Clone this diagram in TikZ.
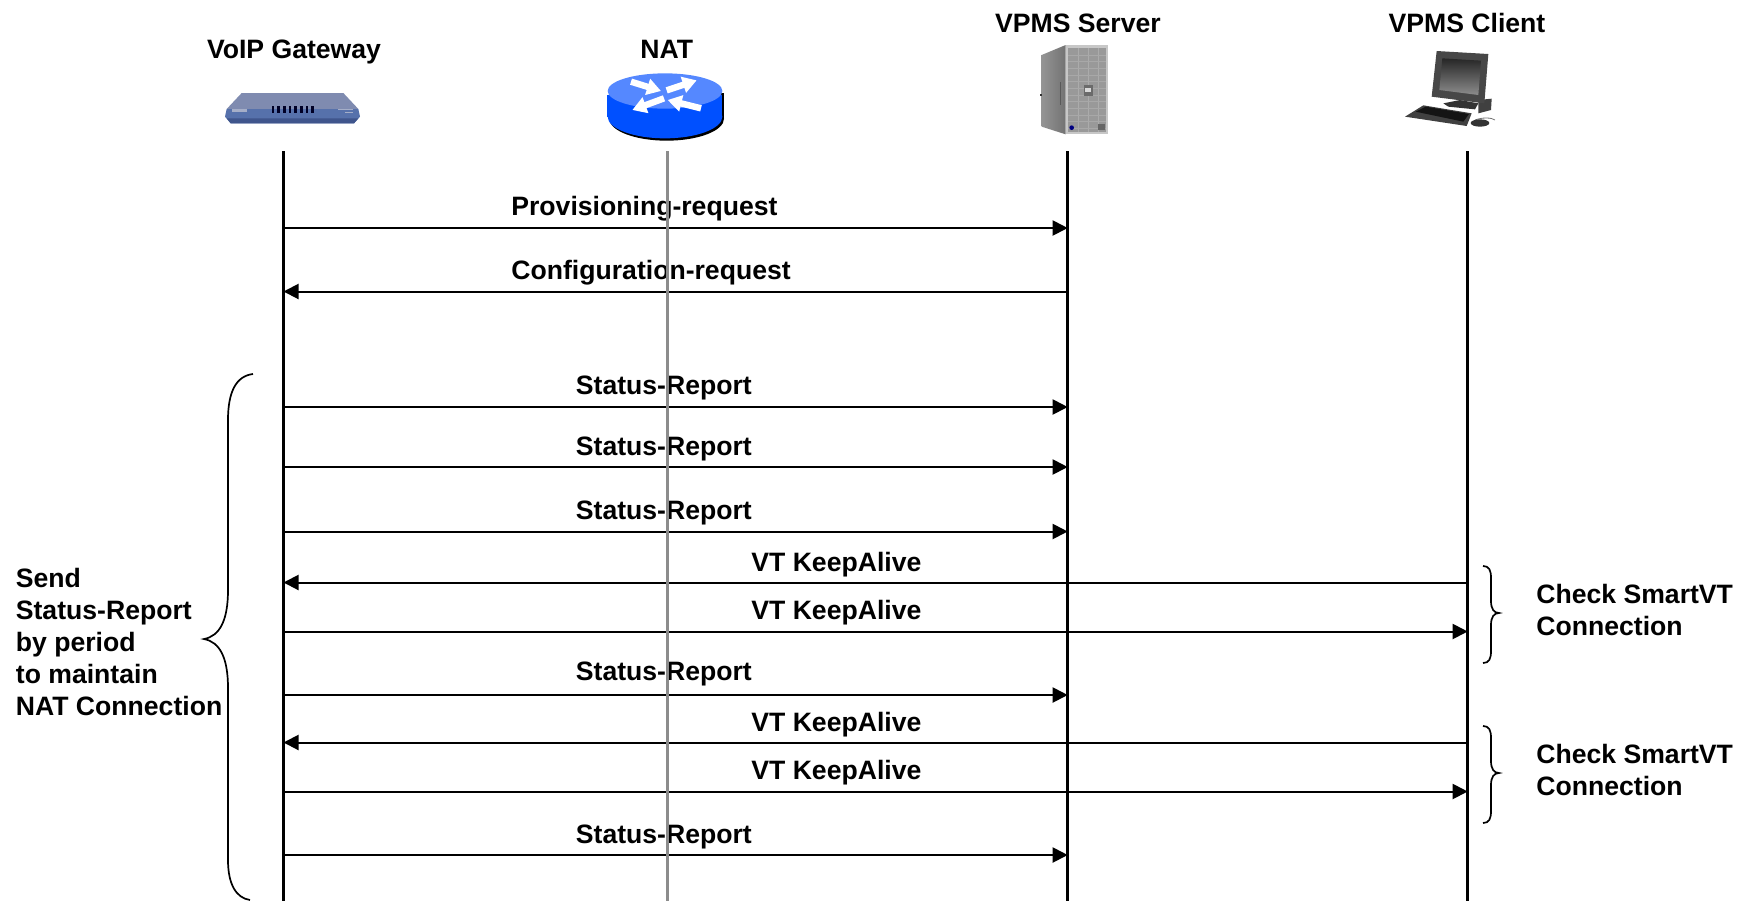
\documentclass[tikz,border=0pt]{standalone}
\usepackage{fontspec}
\setmainfont{Liberation Sans}
\usetikzlibrary{arrows.meta,positioning}
\definecolor{natgray}{HTML}{8C8C8C}
\definecolor{rtrtop}{HTML}{5588FF}
\definecolor{rtrbody}{HTML}{0050FF}
\definecolor{gwtop}{HTML}{7F8BB0}
\definecolor{gwfront}{HTML}{5671AB}
\definecolor{gwedge}{HTML}{3F558C}
\tikzset{
    hdr/.style={ % lifeline titles, placed by baseline
        inner sep=0pt,
        anchor=base,
        font=\fontsize{13.3pt}{16pt}\selectfont\bfseries
        },
    msg/.style={ % message labels, placed by baseline
        hdr,
        anchor=base west
        },
    note/.style={ % side texts
        hdr,
        anchor=west,
        align=left
        },
    life/.style={
        line width=1.5pt
        },
    lifenat/.style={
        line width=1.7pt,
        draw=natgray
        },
    arrout/.style={
        line width=1pt,
        -{Triangle[length=7.5pt,width=7.5pt]}
        },
    brc/.style={
        line width=0.85pt
        },
    rtrarr/.style={
        draw=white,
        line width=3.2pt,
        -{Triangle[length=7pt,width=8pt]}
        },
    zoomed/.style={ % icons are written in units of 1/3 px
        x=0.16667pt,
        y=-0.16667pt
        }
}
\begin{document}
\begin{tikzpicture}[x=0.5pt,y=-0.5pt]
		\useasboundingbox (0,0) rectangle (1742,901);
		
		%%%%% lifeline ends
		\coordinate (gw) at (283.5,151);
		\coordinate (nat) at (667.5,151);
		\coordinate (srv) at (1067.7,151);
		\coordinate (cli) at (1467.7,151);
		\coordinate (gwend) at (gw |- 0,901);
		\coordinate (natend) at (nat |- 0,901);
		\coordinate (srvend) at (srv |- 0,901);
		\coordinate (cliend) at (cli |- 0,901);
		
		%%%%% one row of coordinates per message
		\foreach \n/\ya in {1/228,2/291.5,3/407,4/467,5/531.5,6/582.5,7/631.5,8/695,9/742.5,10/791.5,11/855}{
			\coordinate (gw\n) at (gw |- 0,\ya);
			\coordinate (srv\n) at (srv |- 0,\ya);
			\coordinate (cli\n) at (cli |- 0,\ya);
		}
		
		%%%%% titles
		\node[hdr] (tgw) at (294,58) {VoIP Gateway};
		\node[hdr] (tnat) at (666.7,58) {NAT};
		\node[hdr] (tsrv) at (1078,32.5) {VPMS Server};
		\node[hdr] (tcli) at (1467,32.5) {VPMS Client};
		
		%%%%% gateway icon
		\begin{scope}[shift={(210,85)},zoomed]
			\fill[gwtop] (95,24) -- (400,24) -- (445,72) -- (50,72) -- cycle;
			\fill[gwfront] (50,72) -- (445,72) -- (450,95) -- (432,115) -- (62,115) -- (45,95) -- cycle;
			\fill[gwedge] (50,100) -- (445,100) -- (432,115) -- (62,115) -- cycle;
			\foreach \x in {185,202,...,305}{
				\fill[black!85!blue] (\x,63) rectangle ++(8,22);
			}
			\fill[gwtop!70!white] (65,72) rectangle (112,82);
			\fill[gwtop!70!white] (385,72) rectangle (428,76);
			\fill[gwtop!70!white] (405,80) rectangle (428,84);
		\end{scope}
		
		%%%%% router icon
		\begin{scope}[shift={(595,65)},zoomed]
			\fill[black] (43,84) rectangle (388,161);
			\fill[black] (215,161) ellipse [x radius=172, y radius=66];
			\fill[rtrbody] (37,90) rectangle (382,155);
			\fill[rtrbody] (210,155) ellipse [x radius=172, y radius=65];
			\fill[rtrtop] (210,78) ellipse [x radius=172, y radius=53];
			\draw[rtrarr] (108,50) -- (198,78);
			\draw[rtrarr] (215,76) -- (305,46);
			\draw[rtrarr] (207,100) -- (112,135);
			\draw[rtrarr] (318,130) -- (218,105);
		\end{scope}
		
		%%%%% server icon
		\begin{scope}[shift={(1025,35)},zoomed]
			\shade[left color=black!42,right color=black!55] (50,60) -- (122,30) -- (122,298) -- (50,275) -- cycle;
			\fill[black!65] (105,140) rectangle (109,210);
			\fill[black!80] (45,177) rectangle (52,184);
			\fill[black!22] (122,30) rectangle (250,298);
			\fill[black!40] (130,40) rectangle (242,120);
			\fill[black!40] (130,124) rectangle (242,290);
			\foreach \x in {160,190,220}{
				\draw[black!33,line width=0.4pt] (\x,40) -- (\x,290);
			}
			\foreach \y in {60,80,...,280}{
				\draw[black!34,line width=0.4pt] (130,\y) -- (242,\y);
			}
			\fill[black!58] (177,150) rectangle (203,182);
			\fill[black!15] (181,160) rectangle (199,172);
			\fill[blue!50!black] (140,278) circle [radius=7];
			\fill[black!60] (220,268) rectangle (240,284);
		\end{scope}
		
		%%%%% client icon
		\begin{scope}[shift={(1395,40)},zoomed]
			\fill[black!75] (250,180) -- (290,176) -- (288,210) -- (250,220) -- cycle;
			\fill[black!80] (145,190) -- (195,180) -- (250,190) -- (240,208) -- (160,200) -- cycle;
			\fill[black!72] (125,33) -- (280,42) -- (268,190) -- (110,170) -- cycle;
			\shade[top color=black!85,bottom color=black!45] (142,55) -- (258,62) -- (250,165) -- (133,150) -- cycle;
			\fill[black!75] (30,230) -- (85,196) -- (230,220) -- (215,258) -- cycle;
			\fill[black!92] (62,215) -- (92,200) -- (222,222) -- (205,245) -- cycle;
			\draw[black!55,line width=0.4pt] (240,240) .. controls (260,232) and (290,232) .. (300,240);
			\fill[black!80] (255,249) ellipse [x radius=28, y radius=11];
		\end{scope}
		
		%%%%% lifelines
		\draw[life] (gw) to (gwend);
		\draw[life] (srv) to (srvend);
		\draw[life] (cli) to (cliend);
		
		%%%%% edge e1
		\draw[arrout] (gw1) to (srv1);
		\node[msg] (l1) at (511,215) {Provisioning-request};
		
		%%%%% edge e2
		\draw[arrout] (srv2) to (gw2);
		\node[msg] (l2) at (511,279) {Configuration-request};
		
		%%%%% edge e3
		\draw[arrout] (gw3) to (srv3);
		\node[msg] (l3) at (575.5,394) {Status-Report};
		
		%%%%% edge e4
		\draw[arrout] (gw4) to (srv4);
		\node[msg] (l4) at (575.5,455) {Status-Report};
		
		%%%%% edge e5
		\draw[arrout] (gw5) to (srv5);
		\node[msg] (l5) at (575.5,519) {Status-Report};
		
		%%%%% edge e6
		\draw[arrout] (cli6) to (gw6);
		\node[msg] (l6) at (751,571) {VT KeepAlive};
		
		%%%%% edge e7
		\draw[arrout] (gw7) to (cli7);
		\node[msg] (l7) at (751,619) {VT KeepAlive};
		
		%%%%% edge e8
		\draw[arrout] (gw8) to (srv8);
		\node[msg] (l8) at (575.5,680) {Status-Report};
		
		%%%%% edge e9
		\draw[arrout] (cli9) to (gw9);
		\node[msg] (l9) at (751,731) {VT KeepAlive};
		
		%%%%% edge e10
		\draw[arrout] (gw10) to (cli10);
		\node[msg] (l10) at (751,779) {VT KeepAlive};
		
		%%%%% edge e11
		\draw[arrout] (gw11) to (srv11);
		\node[msg] (l11) at (575.5,843) {Status-Report};
		
		%%%%% NAT lifeline goes over the texts
		\draw[lifenat] (nat) to (natend);
		
		%%%%% left brace
		\draw[brc] (253,374) .. controls (236,376) and (228,392) .. (228,420) -- (228,590)
			.. controls (228,620) and (220,636) .. (204,639)
			.. controls (220,642) and (228,658) .. (228,688) -- (228,860)
			.. controls (228,884) and (236,898) .. (250,900);
		\node[note] (nleft) at (15.5,641.5) {Send\\Status-Report\\by period\\to maintain\\NAT Connection};
		
		%%%%% right braces
		\foreach \ytop/\ytip/\ybot in {566/613/663,726/773/823}{
			\draw[brc] (1483,\ytop) .. controls (1489,\ytop) and (1491,\ytop+4) .. (1491,\ytop+12) -- (1491,\ytip-12)
				.. controls (1491,\ytip-4) and (1494,\ytip) .. (1499,\ytip)
				.. controls (1494,\ytip) and (1491,\ytip+4) .. (1491,\ytip+12) -- (1491,\ybot-12)
				.. controls (1491,\ybot-4) and (1489,\ybot) .. (1483,\ybot);
		}
		\node[note] (nchk1) at (1536,610) {Check SmartVT\\Connection};
		\node[note] (nchk2) at (1536,770) {Check SmartVT\\Connection};
		
\end{tikzpicture}
\end{document}
